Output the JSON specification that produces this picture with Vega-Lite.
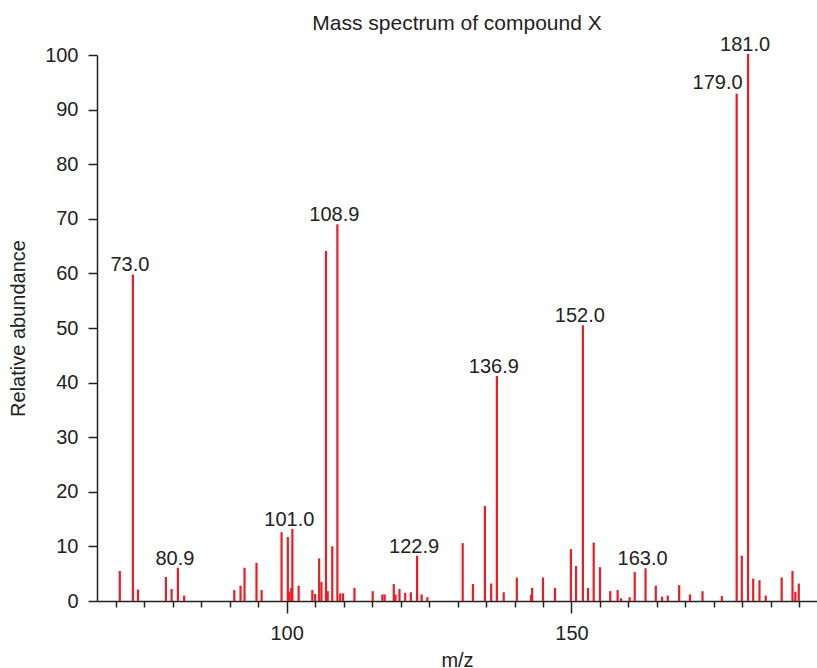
{
  "$schema": "https://vega.github.io/schema/vega-lite/v6.json",
  "width": 720,
  "height": 546,
  "autosize": {"type": "none"},
  "padding": {"left": 97, "top": 55, "right": 0, "bottom": 67},
  "background": "white",
  "title": {
    "text": "Mass spectrum of compound X",
    "fontSize": 21,
    "fontWeight": "normal",
    "font": "Liberation Sans",
    "color": "#222222",
    "anchor": "middle",
    "frame": "group",
    "baseline": "alphabetic",
    "offset": -16
  },
  "config": {
    "view": {"stroke": null},
    "font": "Liberation Sans",
    "axis": {
      "labelFont": "Liberation Sans",
      "titleFont": "Liberation Sans",
      "labelFontSize": 20,
      "titleFontSize": 20,
      "titleFontWeight": "normal",
      "labelColor": "#222222",
      "titleColor": "#222222",
      "domainColor": "#222222",
      "tickColor": "#222222",
      "domainWidth": 1.5,
      "tickWidth": 1.5,
      "grid": false
    }
  },
  "data": {
    "values": [
      {"mz": 70.7, "ab": 5.5},
      {"mz": 73.0, "ab": 59.8, "label": "73.0"},
      {"mz": 73.9, "ab": 2.1},
      {"mz": 78.8, "ab": 4.4},
      {"mz": 79.8, "ab": 2.2},
      {"mz": 80.9, "ab": 6.1, "label": "80.9"},
      {"mz": 82.0, "ab": 1.0},
      {"mz": 90.8, "ab": 2.0},
      {"mz": 91.9, "ab": 2.8},
      {"mz": 92.6, "ab": 6.1},
      {"mz": 94.7, "ab": 7.0},
      {"mz": 95.6, "ab": 2.0},
      {"mz": 99.1, "ab": 12.6},
      {"mz": 100.2, "ab": 11.7},
      {"mz": 100.4, "ab": 1.7},
      {"mz": 100.8, "ab": 2.4},
      {"mz": 101.0, "ab": 13.2, "label": "101.0"},
      {"mz": 102.1, "ab": 2.8},
      {"mz": 104.5, "ab": 2.0},
      {"mz": 105.0, "ab": 1.3},
      {"mz": 105.7, "ab": 7.8},
      {"mz": 106.1, "ab": 3.5},
      {"mz": 106.9, "ab": 64.1},
      {"mz": 107.2, "ab": 1.8},
      {"mz": 108.0, "ab": 10.0},
      {"mz": 108.9, "ab": 69.0, "label": "108.9"},
      {"mz": 109.4, "ab": 1.4},
      {"mz": 109.9, "ab": 1.4},
      {"mz": 111.9, "ab": 2.4},
      {"mz": 115.1, "ab": 1.8},
      {"mz": 116.8, "ab": 1.2},
      {"mz": 117.2, "ab": 1.2},
      {"mz": 118.8, "ab": 3.1},
      {"mz": 119.1, "ab": 1.2},
      {"mz": 119.8, "ab": 2.2},
      {"mz": 120.8, "ab": 1.5},
      {"mz": 121.8, "ab": 1.6},
      {"mz": 122.9, "ab": 8.3, "label": "122.9"},
      {"mz": 123.7, "ab": 1.2},
      {"mz": 124.7, "ab": 0.7},
      {"mz": 130.9, "ab": 10.6},
      {"mz": 132.7, "ab": 3.1},
      {"mz": 134.8, "ab": 17.4},
      {"mz": 135.9, "ab": 3.2},
      {"mz": 136.9, "ab": 41.2, "label": "136.9"},
      {"mz": 138.1, "ab": 1.6},
      {"mz": 140.4, "ab": 4.3},
      {"mz": 142.9, "ab": 1.1},
      {"mz": 143.1, "ab": 2.4},
      {"mz": 145.0, "ab": 4.3},
      {"mz": 147.1, "ab": 2.4},
      {"mz": 149.9, "ab": 9.5},
      {"mz": 150.8, "ab": 6.4},
      {"mz": 152.0, "ab": 50.5, "label": "152.0"},
      {"mz": 152.9, "ab": 2.4},
      {"mz": 153.9, "ab": 10.7},
      {"mz": 155.0, "ab": 6.2},
      {"mz": 156.8, "ab": 1.8},
      {"mz": 158.1, "ab": 2.0},
      {"mz": 158.7, "ab": 0.5},
      {"mz": 160.2, "ab": 0.7},
      {"mz": 161.1, "ab": 5.3},
      {"mz": 163.0, "ab": 6.0, "label": "163.0"},
      {"mz": 164.8, "ab": 2.8},
      {"mz": 165.9, "ab": 0.8},
      {"mz": 166.9, "ab": 1.0},
      {"mz": 168.9, "ab": 2.9},
      {"mz": 170.8, "ab": 1.2},
      {"mz": 173.0, "ab": 1.8},
      {"mz": 176.4, "ab": 0.9},
      {"mz": 179.0, "ab": 92.9, "label": "179.0"},
      {"mz": 179.9, "ab": 8.3},
      {"mz": 181.0, "ab": 100.2, "label": "181.0"},
      {"mz": 181.9, "ab": 4.1},
      {"mz": 183.0, "ab": 3.8},
      {"mz": 184.1, "ab": 1.0},
      {"mz": 186.9, "ab": 4.3},
      {"mz": 188.8, "ab": 5.5},
      {"mz": 189.3, "ab": 1.7},
      {"mz": 189.9, "ab": 3.2}
    ]
  },
  "encoding": {
    "x": {
      "field": "mz",
      "type": "quantitative",
      "scale": {"domain": [66.7, 193.1], "nice": false, "zero": false},
      "axis": {
        "title": "m/z",
        "values": [70, 75, 80, 85, 90, 95, 100, 105, 110, 115, 120, 125, 130, 135, 140, 145, 150, 155, 160, 165, 170, 175, 180, 185, 190],
        "labelExpr": "datum.value % 50 === 0 ? datum.label : ''",
        "tickSize": {"condition": {"test": "datum.value % 50 === 0", "value": 12}, "value": 6},
        "labelPadding": 10,
        "titlePadding": 7,
        "labelFlush": false,
        "labelOverlap": false
      }
    },
    "y": {
      "field": "ab",
      "type": "quantitative",
      "scale": {"domain": [0, 100], "nice": false},
      "axis": {
        "title": "Relative abundance",
        "values": [0, 10, 20, 30, 40, 50, 60, 70, 80, 90, 100],
        "tickSize": 9,
        "labelPadding": 10,
        "titlePadding": 16
      }
    }
  },
  "layer": [
    {
      "mark": {"type": "rule", "color": "#ec1c24", "strokeWidth": 2.2},
      "encoding": {
        "y": {"datum": 0, "type": "quantitative"},
        "y2": {"field": "ab"}
      }
    },
    {
      "transform": [{"filter": "datum.label != null && datum.label !== '179.0'"}],
      "mark": {"type": "text", "fontSize": 20, "font": "Liberation Sans", "color": "#222222", "align": "center", "baseline": "alphabetic", "dx": -3, "dy": -3},
      "encoding": {"text": {"field": "label"}}
    },
    {
      "transform": [{"filter": "datum.label === '179.0'"}],
      "mark": {"type": "text", "fontSize": 20, "font": "Liberation Sans", "color": "#222222", "align": "right", "baseline": "alphabetic", "dx": 6, "dy": -5},
      "encoding": {"text": {"field": "label"}}
    }
  ]
}
